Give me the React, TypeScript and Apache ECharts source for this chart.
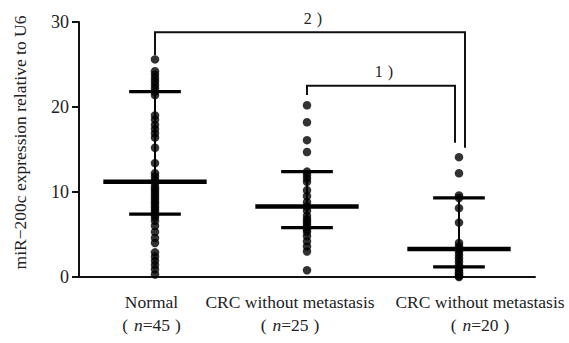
import React, { useEffect, useRef } from "react";
import * as echarts from "echarts";

const categories = ["Normal", "CRC without metastasis", "CRC without metastasis"];
const groupSizes = ["45", "25", "20"];
const labelShift = [-3.5, -17, 21];

const normalValues = [
  25.6,
  24.2, 23.8, 23.4, 23.0, 22.6, 22.2, 21.8, 21.4,
  19.0, 18.5, 17.9, 17.4, 16.9, 16.4,
  15.2, 13.4, 12.2,
  11.8, 11.4, 11.0, 10.6, 10.3, 10.0, 9.7, 9.4, 9.1, 8.8, 8.5, 8.2, 7.9, 7.6, 7.3, 7.0,
  6.6, 6.0, 5.3, 4.6, 4.0,
  2.9, 2.4, 1.9, 1.4, 0.9,
  0.3,
];
const crcNoMetValues = [
  20.2, 18.2, 16.1, 14.7, 12.4, 12.0, 11.6, 11.2, 10.2, 9.5, 8.8, 8.3, 7.8,
  7.2, 6.8, 6.5, 6.2, 5.9, 5.6, 5.3, 4.8, 4.2, 3.6, 3.0, 0.8,
];
const crcMetValues = [
  14.1, 12.2, 9.6, 9.3, 8.1, 6.4, 4.0, 3.6, 3.3, 3.0, 2.6, 2.2, 1.8, 1.4, 1.1,
  0.8, 0.5, 0.3, 0.1, 0.0,
];

const centerValues = [11.2, 8.3, 3.3];
const lowerValues = [7.4, 5.8, 1.2];
const upperValues = [21.8, 12.4, 9.3];

const yMin = 0;
const yMax = 30;
const yInterval = 10;

const bracketFrom = [1, 0];
const bracketTo = [2, 2];
const bracketTop = [22.5, 28.8];
const bracketLeftEnd = [21.4, 26.1];
const bracketRightEnd = [15.8, 15.2];
const bracketNums = ["1", "2"];
const bracketRightDx = [-4, 6];

const FONT = "Liberation Serif";

export default function App() {
  const ref = useRef<HTMLDivElement>(null);

  useEffect(() => {
    if (!ref.current) return;
    const chart = echarts.init(ref.current, undefined, { renderer: "svg" });

    const groups = [normalValues, crcNoMetValues, crcMetValues];
    const scatterData: number[][] = [];
    groups.forEach((vals, gi) => vals.forEach((v) => scatterData.push([gi, v])));

    const summaryData = categories.map((_, i) => [i, centerValues[i], lowerValues[i], upperValues[i]]);
    const bracketData = bracketFrom.map((f, i) => [
      f,
      bracketTo[i],
      bracketTop[i],
      bracketLeftEnd[i],
      bracketRightEnd[i],
      i,
    ]);

    const fs = 17.5;
    const option: any = {
      animation: false,
      grid: { left: 79, right: 34, top: 22, bottom: 66 },
      xAxis: {
        type: "category",
        data: categories.map((c, i) => ({
          value: c,
          textStyle: {
            padding: [0, Math.max(0, -2 * labelShift[i]), 0, Math.max(0, 2 * labelShift[i])],
          },
        })),
        boundaryGap: true,
        axisLine: { lineStyle: { color: "#111", width: 2 } },
        axisTick: { alignWithLabel: true, length: 5, lineStyle: { color: "#111", width: 2 } },
        axisLabel: {
          interval: 0,
          margin: 13,
          color: "#222",
          fontFamily: FONT,
          fontSize: fs,
          lineHeight: 23,
          formatter: (value: string, index: number) =>
            `{t|${value}}\n{pl|(}{i|n}{t|=${groupSizes[index]}}{pr|)}`,
          rich: {
            t: { fontFamily: FONT, fontSize: fs, color: "#222", lineHeight: 23 },
            pl: { fontFamily: FONT, fontSize: fs, color: "#222", lineHeight: 23, padding: [0, 6, 0, 0] },
            pr: { fontFamily: FONT, fontSize: fs, color: "#222", lineHeight: 23, padding: [0, 0, 0, 5] },
            i: { fontFamily: FONT, fontSize: fs, fontStyle: "italic", color: "#222", lineHeight: 23 },
          },
        },
        splitLine: { show: false },
      },
      yAxis: {
        type: "value",
        min: yMin,
        max: yMax,
        interval: yInterval,
        name: "miR−200c expression relative to U6",
        nameLocation: "middle",
        nameGap: 50,
        nameTextStyle: { fontFamily: FONT, fontSize: 17.5, color: "#222", padding: [0, 0, 0, 14] },
        axisLine: { show: true, lineStyle: { color: "#111", width: 2 } },
        axisTick: { show: true, length: 7, lineStyle: { color: "#111", width: 2 } },
        axisLabel: { margin: 10, color: "#222", fontFamily: FONT, fontSize: 18 },
        splitLine: { show: false },
      },
      series: [
        {
          type: "custom",
          name: "summary",
          data: summaryData,
          z: 3,
          renderItem: (params: any, api: any) => {
            const c = api.value(0);
            const band = api.size([1, 0])[0];
            const mid = api.coord([c, api.value(1)]);
            const lo = api.coord([c, api.value(2)]);
            const hi = api.coord([c, api.value(3)]);
            const mh = band * 0.34;
            const wh = band * 0.17;
            const st = { stroke: "#000" };
            return {
              type: "group",
              children: [
                { type: "line", shape: { x1: lo[0], y1: lo[1], x2: hi[0], y2: hi[1] }, style: { ...st, lineWidth: 2 } },
                { type: "line", shape: { x1: mid[0] - mh, y1: mid[1], x2: mid[0] + mh, y2: mid[1] }, style: { ...st, lineWidth: 4.5 } },
                { type: "line", shape: { x1: lo[0] - wh, y1: lo[1], x2: lo[0] + wh, y2: lo[1] }, style: { ...st, lineWidth: 3.2 } },
                { type: "line", shape: { x1: hi[0] - wh, y1: hi[1], x2: hi[0] + wh, y2: hi[1] }, style: { ...st, lineWidth: 3.2 } },
              ],
            };
          },
        },
        {
          type: "scatter",
          name: "values",
          data: scatterData,
          symbol: "circle",
          symbolSize: 8.5,
          itemStyle: { color: "#000" },
          z: 4,
        },
        {
          type: "custom",
          name: "brackets",
          data: bracketData,
          z: 5,
          clip: false,
          renderItem: (params: any, api: any) => {
            const idx = api.value(5);
            const dx = bracketRightDx[idx];
            const lt = api.coord([api.value(0), api.value(2)]);
            const rt = api.coord([api.value(1), api.value(2)]);
            const lb = api.coord([api.value(0), api.value(3)]);
            const rb = api.coord([api.value(1), api.value(4)]);
            const rx = rt[0] + dx;
            return {
              type: "group",
              children: [
                {
                  type: "polyline",
                  shape: { points: [[lb[0], lb[1]], [lt[0], lt[1]], [rx, rt[1]], [rx, rb[1]]] },
                  style: { stroke: "#111", lineWidth: 2, fill: null },
                },
                {
                  type: "text",
                  x: (lt[0] + rx) / 2 + 3,
                  y: lt[1] - 6,
                  style: {
                    text: `{n|${bracketNums[idx]}}{p|)}`,
                    rich: {
                      n: { fontFamily: FONT, fontSize: 16, fill: "#222" },
                      p: { fontFamily: FONT, fontSize: 16, fill: "#222", padding: [0, 0, 0, 5] },
                    },
                    align: "center",
                    verticalAlign: "bottom",
                  },
                },
              ],
            };
          },
        },
      ],
    };

    chart.setOption(option);
    return () => chart.dispose();
  }, []);

  return <div ref={ref} style={{ width: 569, height: 343, position: "absolute", left: 0, top: 0, background: "#fff" }} />;
}
